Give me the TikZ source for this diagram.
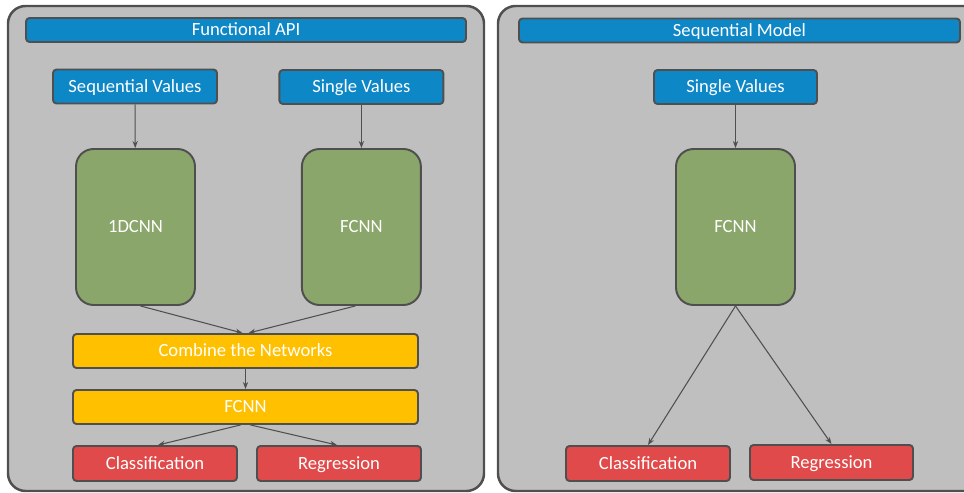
\documentclass[tikz,border=0pt]{standalone}
\usepackage{fontspec}
\setmainfont{Carlito}
\usetikzlibrary{
  arrows.meta,  % Stealth 箭头
  calc,         % 坐标计算
  positioning   % 节点相对定位
}
\definecolor{panelgray}{HTML}{BFBFBF}
\definecolor{edgegray}{HTML}{4F4F4F}
\definecolor{boxblue}{HTML}{0E87C7}
\definecolor{boxgreen}{HTML}{8AA66A}
\definecolor{boxyellow}{HTML}{FFC000}
\definecolor{boxred}{HTML}{E04A4A}
\tikzset{
  panel/.style={
    fill=panelgray,
    draw=edgegray,
    line width=1.4pt,
    rounded corners=10pt
  },
  box/.style={
    draw=edgegray,
    line width=1.1pt,
    rounded corners=2pt,
    text=white,
    font=\fontsize{10.6}{12}\selectfont,
    text height=6.8pt,
    text depth=0pt,
    inner sep=0pt
  },
  title bar/.style={box, fill=boxblue, minimum height=24*\px},
  input box/.style={box, fill=boxblue, minimum width=164*\px, minimum height=34*\px},
  net box/.style={box, fill=boxgreen, rounded corners=10pt, minimum width=119*\px, minimum height=156*\px},
  merge box/.style={box, fill=boxyellow, minimum width=345*\px, minimum height=34*\px},
  out box/.style={box, fill=boxred, minimum width=164*\px, minimum height=35*\px},
  link/.style={
    -{Stealth[length=4pt,width=3pt]},
    draw=edgegray,
    line width=0.6pt
  }
}

\begin{document}
\begin{tikzpicture}[x=0.02cm, y=-0.02cm, line join=round]
  % 一个像素对应的长度
  \def\px{0.02cm}

  \useasboundingbox (0,0) rectangle (964,493);
  \clip (0,0) rectangle (964,493);

  % ===================================
  % 两个灰色背景面板
  % ===================================
  \draw[panel] (8,6) rectangle (484,491);
  \draw[panel] (498,6) rectangle (990,491);

  % ===================================
  % 左侧：Functional API
  % ===================================
  \node[title bar, minimum width=440*\px] (apiL) at (246,30) {Functional API};

  \node[input box] (seqIn) at (135,86.5) {Sequential Values};
  \node[input box] (sglL) at (361.4,87) {Single Values};

  \node[net box] (cnn) at (135.5,227) {1DCNN};
  \node[net box] (fcnnL) at (361.4,227) {FCNN};

  \node[merge box] (comb) at (245.5,351) {Combine the Networks};
  \node[merge box] (fcnnY) at (245.5,407) {FCNN};

  \node[out box] (clsL) at (155,463.5) {Classification};
  \node[out box] (regL) at (339,463.5) {Regression};

  % 连线
  \draw[link] (seqIn) -- (cnn);
  \draw[link] (sglL) -- (fcnnL);
  \draw[link] ($(cnn.south)+(5,0)$) -- ($(comb.north)+(-3,0)$);
  \draw[link] ($(fcnnL.south)+(-6,0)$) -- ($(comb.north)+(3,0)$);
  \draw[link] (comb) -- (fcnnY);
  \draw[link] ($(fcnnY.south)+(-5,0)$) -- ($(clsL.north)+(3,0)$);
  \draw[link] ($(fcnnY.south)+(5,0)$) -- ($(regL.north)+(-2,0)$);

  % ===================================
  % 右侧：Sequential Model
  % ===================================
  \node[title bar, minimum width=441*\px] (apiR) at (739.5,30.5) {Sequential Model};

  \node[input box, minimum width=163*\px] (sglR) at (735.5,87) {Single Values};
  \node[net box] (fcnnR) at (735.5,227) {FCNN};

  \node[out box] (clsR) at (648,463.5) {Classification};
  \node[out box, minimum width=163*\px] (regR) at (831.5,462.5) {Regression};

  % 连线
  \draw[link] (sglR) -- (fcnnR);
  \draw[link] (fcnnR.south) -- (clsR.north);
  \draw[link] (fcnnR.south) -- (regR.north);

\end{tikzpicture}
\end{document}
